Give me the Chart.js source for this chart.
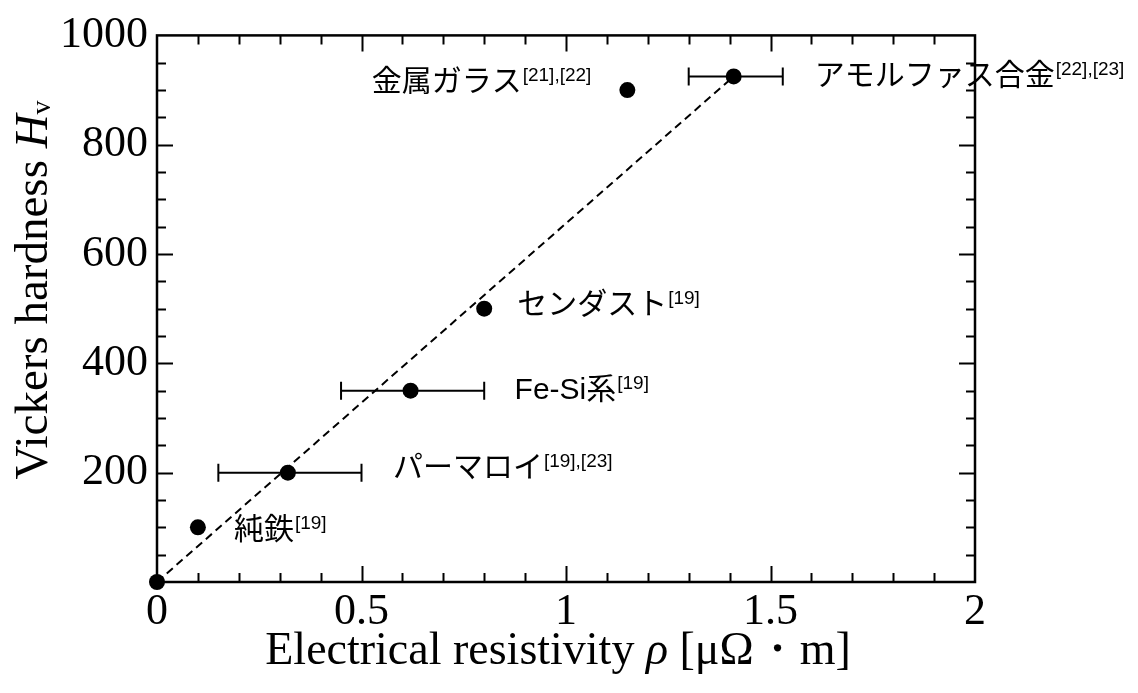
<!DOCTYPE html>
<html>
<head>
<meta charset="utf-8">
<script src="https://cdn.jsdelivr.net/npm/chart.js@4/dist/chart.umd.min.js"></script>
<style>
  html, body { margin: 0; padding: 0; background: #fff; }
  canvas { display: block; }
</style>
</head>
<body>
<canvas id="c" width="1138" height="693"></canvas>
<script>
// resistivity [μΩ・m] and Vickers hardness of each material
const rho      = [0, 0.1, 0.32, 0.62, 0.8, 1.15, 1.41];
const hv       = [0, 100, 200, 350, 500, 900, 925];
// resistivity range (error bar ends), null where there is none
const rhoLow   = [null, null, 0.15, 0.45, null, null, 1.30];
const rhoHigh  = [null, null, 0.50, 0.80, null, null, 1.53];
const names    = ['', '純鉄', 'パーマロイ', 'Fe-Si系', 'センダスト', '金属ガラス', 'アモルファス合金'];
const refs     = ['', '[19]', '[19],[23]', '[19]', '[19]', '[21],[22]', '[22],[23]'];
const xTicks   = [0, 0.5, 1, 1.5, 2];
const yTicks   = [200, 400, 600, 800, 1000];

const SERIF = '"Liberation Serif", "Times New Roman", serif';
const SANS  = '"Liberation Sans", "Noto Sans CJK JP", sans-serif';
const SUP   = '"Liberation Sans", Arial, sans-serif';

// where each name sits relative to its marker (dx, dy, align)
const labelPlace = {
  '純鉄':            [36, 3, 'left'],
  'パーマロイ':       [105, -4, 'left'],
  'Fe-Si系':         [104, 0, 'left'],
  'センダスト':       [33, -3, 'left'],
  '金属ガラス':       [-37, -7, 'right'],
  'アモルファス合金': [81, 0, 'left']
};

const points = rho.map((x, i) => ({x: x, y: hv[i]}));
const last = rho.length - 1;
const trend = [{x: rho[0], y: hv[0]}, {x: rho[last], y: hv[last]}];

const decorations = {
  id: 'decorations',
  beforeDatasetsDraw(chart) {
    const ctx = chart.ctx;
    const xs = chart.scales.x, ys = chart.scales.y;
    ctx.save();
    ctx.strokeStyle = '#000';
    ctx.lineWidth = 2;
    for (let i = 0; i < rho.length; i++) {
      if (rhoLow[i] === null) continue;
      const y = ys.getPixelForValue(hv[i]);
      const x1 = xs.getPixelForValue(rhoLow[i]);
      const x2 = xs.getPixelForValue(rhoHigh[i]);
      ctx.beginPath();
      ctx.moveTo(x1, y); ctx.lineTo(x2, y);
      ctx.moveTo(x1, y - 9); ctx.lineTo(x1, y + 9);
      ctx.moveTo(x2, y - 9); ctx.lineTo(x2, y + 9);
      ctx.stroke();
    }
    ctx.restore();
  },
  afterDraw(chart) {
    const ctx = chart.ctx;
    const a = chart.chartArea;
    const xs = chart.scales.x, ys = chart.scales.y;
    ctx.save();
    ctx.strokeStyle = '#000';
    ctx.lineWidth = 2.5;
    ctx.strokeRect(a.left, a.top, a.right - a.left, a.bottom - a.top);

    // inward ticks on all four sides
    ctx.lineWidth = 2;
    ctx.beginPath();
    for (let k = 1; k < 20; k++) {
      const px = Math.round(xs.getPixelForValue(k / 10)) + 0.5;
      const len = k % 5 === 0 ? 16 : 9;
      ctx.moveTo(px, a.bottom); ctx.lineTo(px, a.bottom - len);
      ctx.moveTo(px, a.top); ctx.lineTo(px, a.top + len);
    }
    for (let k = 1; k < 20; k++) {
      const py = Math.round(ys.getPixelForValue(k * 50)) + 0.5;
      const len = k % 4 === 0 ? 16 : 9;
      ctx.moveTo(a.left, py); ctx.lineTo(a.left + len, py);
      ctx.moveTo(a.right, py); ctx.lineTo(a.right - len, py);
    }
    ctx.stroke();

    // material names with reference numbers
    ctx.fillStyle = '#000';
    for (let i = 0; i < names.length; i++) {
      const place = labelPlace[names[i]];
      if (!place) continue;
      const px = xs.getPixelForValue(rho[i]) + place[0];
      const py = ys.getPixelForValue(hv[i]) + place[1];
      ctx.font = '30px ' + SANS;
      const w1 = ctx.measureText(names[i]).width;
      ctx.font = '19px ' + SUP;
      const w2 = ctx.measureText(refs[i]).width;
      const x0 = place[2] === 'right' ? px - w1 - w2 : px;
      ctx.textBaseline = 'middle';
      ctx.textAlign = 'left';
      ctx.font = '30px ' + SANS;
      ctx.fillText(names[i], x0, py);
      ctx.font = '19px ' + SUP;
      ctx.fillText(refs[i], x0 + w1 + 1, py - 7);
    }

    // x axis title
    const xParts = [['Electrical resistivity ', ''], ['ρ', 'italic '], [' [μΩ・m]', '']];
    drawParts(ctx, xParts, 558, 652, 46);

    // y axis title, rotated
    ctx.save();
    ctx.translate(35, 290);
    ctx.rotate(-Math.PI / 2);
    ctx.textBaseline = 'middle';
    ctx.textAlign = 'left';
    ctx.font = '47px ' + SERIF;
    const t1 = 'Vickers hardness ';
    const w1 = ctx.measureText(t1).width;
    ctx.font = 'italic 47px ' + SERIF;
    const w2 = ctx.measureText('H').width;
    ctx.font = '28px ' + SERIF;
    const w3 = ctx.measureText('v').width;
    let x = -(w1 + w2 + w3) / 2;
    ctx.font = '47px ' + SERIF;
    ctx.fillText(t1, x, 0); x += w1;
    ctx.font = 'italic 47px ' + SERIF;
    ctx.fillText('H', x, 0); x += w2;
    ctx.font = '28px ' + SERIF;
    ctx.fillText('v', x, 8);
    ctx.restore();

    ctx.restore();
  }
};

function drawParts(ctx, parts, cx, cy, size) {
  ctx.textBaseline = 'middle';
  ctx.textAlign = 'left';
  let total = 0;
  parts.forEach(p => { ctx.font = p[1] + size + 'px ' + SERIF; total += ctx.measureText(p[0]).width; });
  let x = cx - total / 2;
  parts.forEach(p => {
    ctx.font = p[1] + size + 'px ' + SERIF;
    ctx.fillText(p[0], x, cy);
    x += ctx.measureText(p[0]).width;
  });
}

new Chart(document.getElementById('c'), {
  type: 'scatter',
  data: {
    datasets: [{
      data: points,
      clip: false,
      pointRadius: 8,
      pointHoverRadius: 8,
      pointBackgroundColor: '#000',
      pointBorderColor: '#000',
      pointBorderWidth: 0
    }, {
      type: 'line',
      data: trend,
      borderColor: '#000',
      borderWidth: 2,
      borderDash: [8, 5],
      pointRadius: 0,
      fill: false
    }]
  },
  options: {
    responsive: false,
    devicePixelRatio: 1,
    animation: false,
    events: [],
    layout: { padding: { left: 0, top: 33, right: 163, bottom: 0 } },
    plugins: { legend: { display: false }, tooltip: { enabled: false } },
    scales: {
      x: {
        type: 'linear', min: 0, max: 2,
        afterBuildTicks: s => { s.ticks = xTicks.map(v => ({value: v})); },
        afterFit: s => { s.height = 111; },
        grid: { display: false, drawTicks: false },
        border: { display: false },
        ticks: { color: '#000', padding: 4, font: { family: SERIF, size: 44 }, maxRotation: 0,
                 callback: v => String(v) }
      },
      y: {
        type: 'linear', min: 0, max: 1000,
        afterBuildTicks: s => { s.ticks = yTicks.map(v => ({value: v})); },
        afterFit: s => { s.width = 157; },
        grid: { display: false, drawTicks: false },
        border: { display: false },
        ticks: { color: '#000', padding: 9, font: { family: SERIF, size: 44 },
                 callback: v => String(v) }
      }
    }
  },
  plugins: [decorations]
});
</script>
</body>
</html>
